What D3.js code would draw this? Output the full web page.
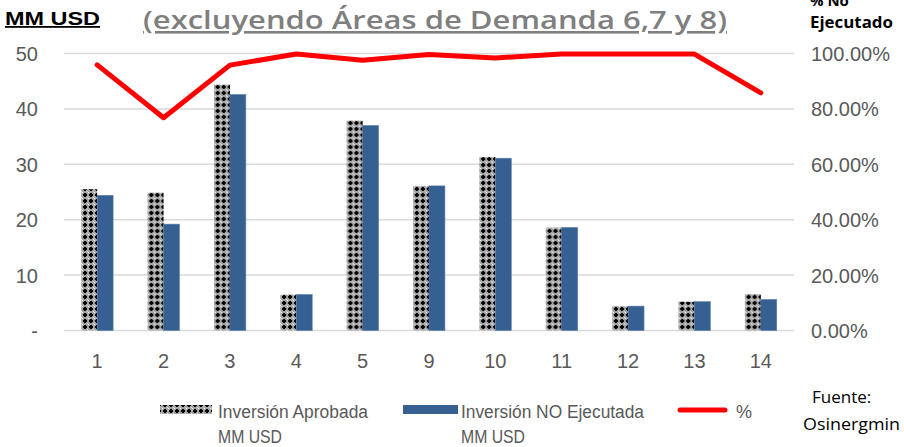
<!DOCTYPE html>
<html>
<head>
<meta charset="utf-8">
<script src="https://cdn.jsdelivr.net/npm/d3@7"></script>
<style>
  body { margin: 0; background: #fff; }
  svg text { font-family: "Liberation Sans", Arial, sans-serif; }
</style>
</head>
<body>
<svg id="chart" width="904" height="447"></svg>
<script>
var categories = ["1", "2", "3", "4", "5", "9", "10", "11", "12", "13", "14"],
    aprobada = [25.5, 24.9, 44.4, 6.5, 37.9, 26.1, 31.3, 18.6, 4.4, 5.2, 6.6],
    noEjecutada = [24.4, 19.2, 42.6, 6.5, 37.0, 26.1, 31.1, 18.6, 4.4, 5.2, 5.6],
    pctNoEjec = [0.959, 0.768, 0.958, 0.998, 0.976, 0.996, 0.984, 0.998, 0.998, 0.998, 0.858],
    leftTicks = [0, 10, 20, 30, 40, 50],
    rightTicks = [0, 0.2, 0.4, 0.6, 0.8, 1.0];

var svg = d3.select("#chart"),
    plotL = 64, plotR = 794, plotT = 53.5, plotB = 330.5,
    grey = "#595959",
    blue = "#366092";

var x = d3.scaleBand().domain(categories).range([plotL, plotR]),
    x1 = d3.scaleBand().domain(["a", "n"])
        .range([x.bandwidth() * 0.26, x.bandwidth() * 0.74]),
    y = d3.scaleLinear().domain([0, 50]).range([plotB, plotT]),
    y2 = d3.scaleLinear().domain([0, 1]).range([plotB, plotT]);

// patron tramado de la serie aprobada
var defs = svg.append("defs");
var pat = defs.append("pattern")
    .attr("id", "trama")
    .attr("patternUnits", "userSpaceOnUse")
    .attr("width", 6).attr("height", 6);
pat.append("rect").attr("width", 6).attr("height", 6).attr("fill", "#a3a3a3");
pat.append("rect").attr("x", 1).attr("y", 2).attr("width", 4).attr("height", 2).attr("fill", "#000");
pat.append("rect").attr("x", 2).attr("y", 1).attr("width", 2).attr("height", 4).attr("fill", "#000");
pat.append("rect").attr("x", 0).attr("y", 0).attr("width", 1).attr("height", 1).attr("fill", "#fff");
pat.append("rect").attr("x", 5).attr("y", 5).attr("width", 1).attr("height", 1).attr("fill", "#ddd");

// grid
svg.append("g")
  .selectAll("line")
  .data(leftTicks)
  .join("line")
    .attr("x1", plotL).attr("x2", plotR)
    .attr("y1", function (d) { return y(d); })
    .attr("y2", function (d) { return y(d); })
    .attr("stroke", "#d9d9d9")
    .attr("stroke-width", 1.5);

// ejes
var yAxis = svg.append("g")
    .attr("transform", "translate(" + (plotL - 26) + ",0)")
    .call(d3.axisLeft(y).tickValues(leftTicks).tickSize(0)
        .tickFormat(function (d) { return d === 0 ? "-" : d; }));
yAxis.select(".domain").remove();
yAxis.selectAll("text").attr("fill", grey).style("font-size", "20px")
    .style("font-family", "'Liberation Sans', sans-serif").attr("x", 0).attr("dy", "0.35em");

var y2Axis = svg.append("g")
    .attr("transform", "translate(" + (plotR + 17) + ",0)")
    .call(d3.axisRight(y2).tickValues(rightTicks).tickSize(0)
        .tickFormat(d3.format(".2%")));
y2Axis.select(".domain").remove();
y2Axis.selectAll("text").attr("fill", grey).style("font-size", "20px")
    .style("font-family", "'Liberation Sans', sans-serif").attr("x", 0).attr("dy", "0.35em");

var xAxis = svg.append("g")
    .attr("transform", "translate(0," + (plotB + 20) + ")")
    .call(d3.axisBottom(x).tickSize(0));
xAxis.select(".domain").remove();
xAxis.selectAll("text").attr("fill", grey).style("font-size", "20px")
    .style("font-family", "'Liberation Sans', sans-serif");

// barras
var groups = svg.append("g")
  .selectAll("g")
  .data(categories)
  .join("g")
    .attr("transform", function (d) { return "translate(" + x(d) + ",0)"; });

groups.append("rect")
    .attr("x", x1("a"))
    .attr("width", x1.bandwidth())
    .attr("y", function (d, i) { return y(aprobada[i]); })
    .attr("height", function (d, i) { return plotB - y(aprobada[i]); })
    .attr("fill", "url(#trama)");

groups.append("rect")
    .attr("x", x1("n"))
    .attr("width", x1.bandwidth())
    .attr("y", function (d, i) { return y(noEjecutada[i]); })
    .attr("height", function (d, i) { return plotB - y(noEjecutada[i]); })
    .attr("fill", blue)
    .attr("stroke", "#5b7fab")
    .attr("stroke-width", 0.6);

// linea %
var line = d3.line()
    .x(function (d, i) { return x(categories[i]) + x.bandwidth() / 2; })
    .y(function (d) { return y2(d); });

svg.append("path")
    .datum(pctNoEjec)
    .attr("d", line)
    .attr("fill", "none")
    .attr("stroke", "#ff0000")
    .attr("stroke-width", 5)
    .attr("stroke-linejoin", "round")
    .attr("stroke-linecap", "round");

// titulos
svg.append("text")
    .attr("x", 5).attr("y", 25)
    .attr("textLength", 95).attr("lengthAdjust", "spacingAndGlyphs")
    .style("font-family", "'Liberation Sans', sans-serif")
    .style("font-weight", "bold").style("font-size", "18px")
    .style("text-decoration", "underline")
    .attr("fill", "#000")
    .text("MM USD");

svg.append("text")
    .attr("x", 143).attr("y", 29)
    .attr("textLength", 584).attr("lengthAdjust", "spacingAndGlyphs")
    .style("font-family", "'Open Sans', sans-serif")
    .style("font-weight", "600").style("font-size", "26px")
    .style("text-decoration", "underline")
    .attr("fill", "#7f7f7f")
    .text("(excluyendo Áreas  de Demanda 6,7 y 8)");

svg.append("text")
    .attr("x", 810).attr("y", 6)
    .style("font-family", "'Open Sans', sans-serif")
    .style("font-weight", "bold").style("font-size", "15px")
    .attr("fill", "#000")
    .text("% No");

svg.append("text")
    .attr("x", 810).attr("y", 28)
    .attr("textLength", 83).attr("lengthAdjust", "spacingAndGlyphs")
    .style("font-family", "'Open Sans', sans-serif")
    .style("font-weight", "bold").style("font-size", "16px")
    .attr("fill", "#000")
    .text("Ejecutado");

// leyenda
var leg = svg.append("g").style("font-size", "18px").attr("fill", grey);

leg.append("rect").attr("x", 160).attr("y", 405).attr("width", 52).attr("height", 9).attr("fill", "url(#trama)");
leg.append("text").attr("x", 218).attr("y", 418)
    .attr("textLength", 150).attr("lengthAdjust", "spacingAndGlyphs").text("Inversión Aprobada");
leg.append("text").attr("x", 218).attr("y", 443)
    .attr("textLength", 64).attr("lengthAdjust", "spacingAndGlyphs").text("MM USD");

leg.append("rect").attr("x", 403).attr("y", 405).attr("width", 55).attr("height", 9).attr("fill", blue);
leg.append("text").attr("x", 461).attr("y", 418)
    .attr("textLength", 183).attr("lengthAdjust", "spacingAndGlyphs").text("Inversión NO Ejecutada");
leg.append("text").attr("x", 461).attr("y", 443)
    .attr("textLength", 64).attr("lengthAdjust", "spacingAndGlyphs").text("MM USD");

leg.append("line").attr("x1", 680).attr("x2", 725).attr("y1", 410).attr("y2", 410)
    .attr("stroke", "#ff0000").attr("stroke-width", 5).attr("stroke-linecap", "round");
leg.append("text").attr("x", 736).attr("y", 418).text("%");

svg.append("text")
    .attr("x", 812).attr("y", 403)
    .style("font-family", "'Open Sans', sans-serif").style("font-size", "17px")
    .attr("fill", "#000")
    .text("Fuente:");
svg.append("text")
    .attr("x", 803).attr("y", 430)
    .attr("textLength", 97).attr("lengthAdjust", "spacingAndGlyphs")
    .style("font-family", "'Open Sans', sans-serif").style("font-size", "17px")
    .attr("fill", "#000")
    .text("Osinergmin");
</script>
</body>
</html>
